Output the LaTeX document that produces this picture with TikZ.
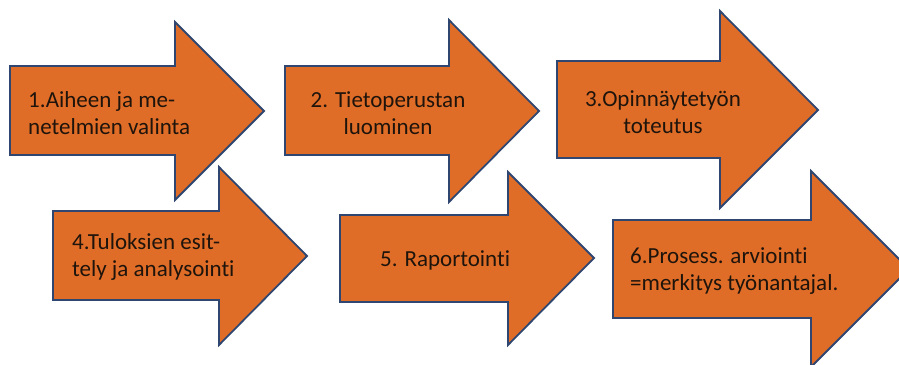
\documentclass[tikz,border=0pt]{standalone}
\usepackage{fontspec}
\setmainfont{Carlito}[Ligatures=CommonOff]
\definecolor{arrorange}{RGB}{223,109,40}
\definecolor{arrblue}{RGB}{47,70,112}
\definecolor{arrtext}{RGB}{30,20,12}

\begin{document}
\begin{tikzpicture}[x=1pt, y=-1pt,
  bigarrow/.style={draw=arrblue, fill=arrorange, line width=1.8pt, line join=miter},
  phasetext/.style={text=arrtext, font=\fontsize{23}{27.5}\selectfont, inner sep=0pt}]
\useasboundingbox (0,0) rectangle (899,364);

% Top row of arrows
\draw[bigarrow] (10,66) -- (175,66) -- (175,22) -- (264,111) -- (175,200) -- (175,155) -- (10,155) -- cycle;
\draw[bigarrow] (285,66) -- (449,66) -- (449,20) -- (539,111) -- (449,202) -- (449,155) -- (285,155) -- cycle;
\draw[bigarrow] (557,61) -- (720,61) -- (720,11) -- (818,110) -- (720,208) -- (720,158) -- (557,158) -- cycle;

% Bottom row of arrows
\draw[bigarrow] (53,211) -- (219,211) -- (219,167) -- (307,256) -- (219,345) -- (219,300) -- (53,300) -- cycle;
\draw[bigarrow] (340,215) -- (508,215) -- (508,172) -- (594,258) -- (508,345) -- (508,302) -- (340,302) -- cycle;
\draw[bigarrow] (613,220) -- (811,220) -- (811,171) -- (909,269) -- (811,367) -- (811,318) -- (613,318) -- cycle;

% Texts
\node[phasetext, anchor=west, align=left] (phase1) at (28,113) {1.Aiheen ja me-\\netelmien valinta};
\node[phasetext, align=center] (phase2) at (388,113) {2. Tietoperustan\\luominen};
\node[phasetext, align=center] (phase3) at (663,112) {3.Opinnäytetyön\\toteutus};
\node[phasetext, anchor=west, align=left] (phase4) at (72,257) {4.Tuloksien esit-\\tely ja analysointi};
\node[phasetext, anchor=west] (phase5) at (380,260) {5. Raportointi};
\node[phasetext, anchor=west, align=left] (phase6) at (630,271) {6.Prosess. arviointi\\=merkitys työnantajal.};
\end{tikzpicture}
\end{document}
